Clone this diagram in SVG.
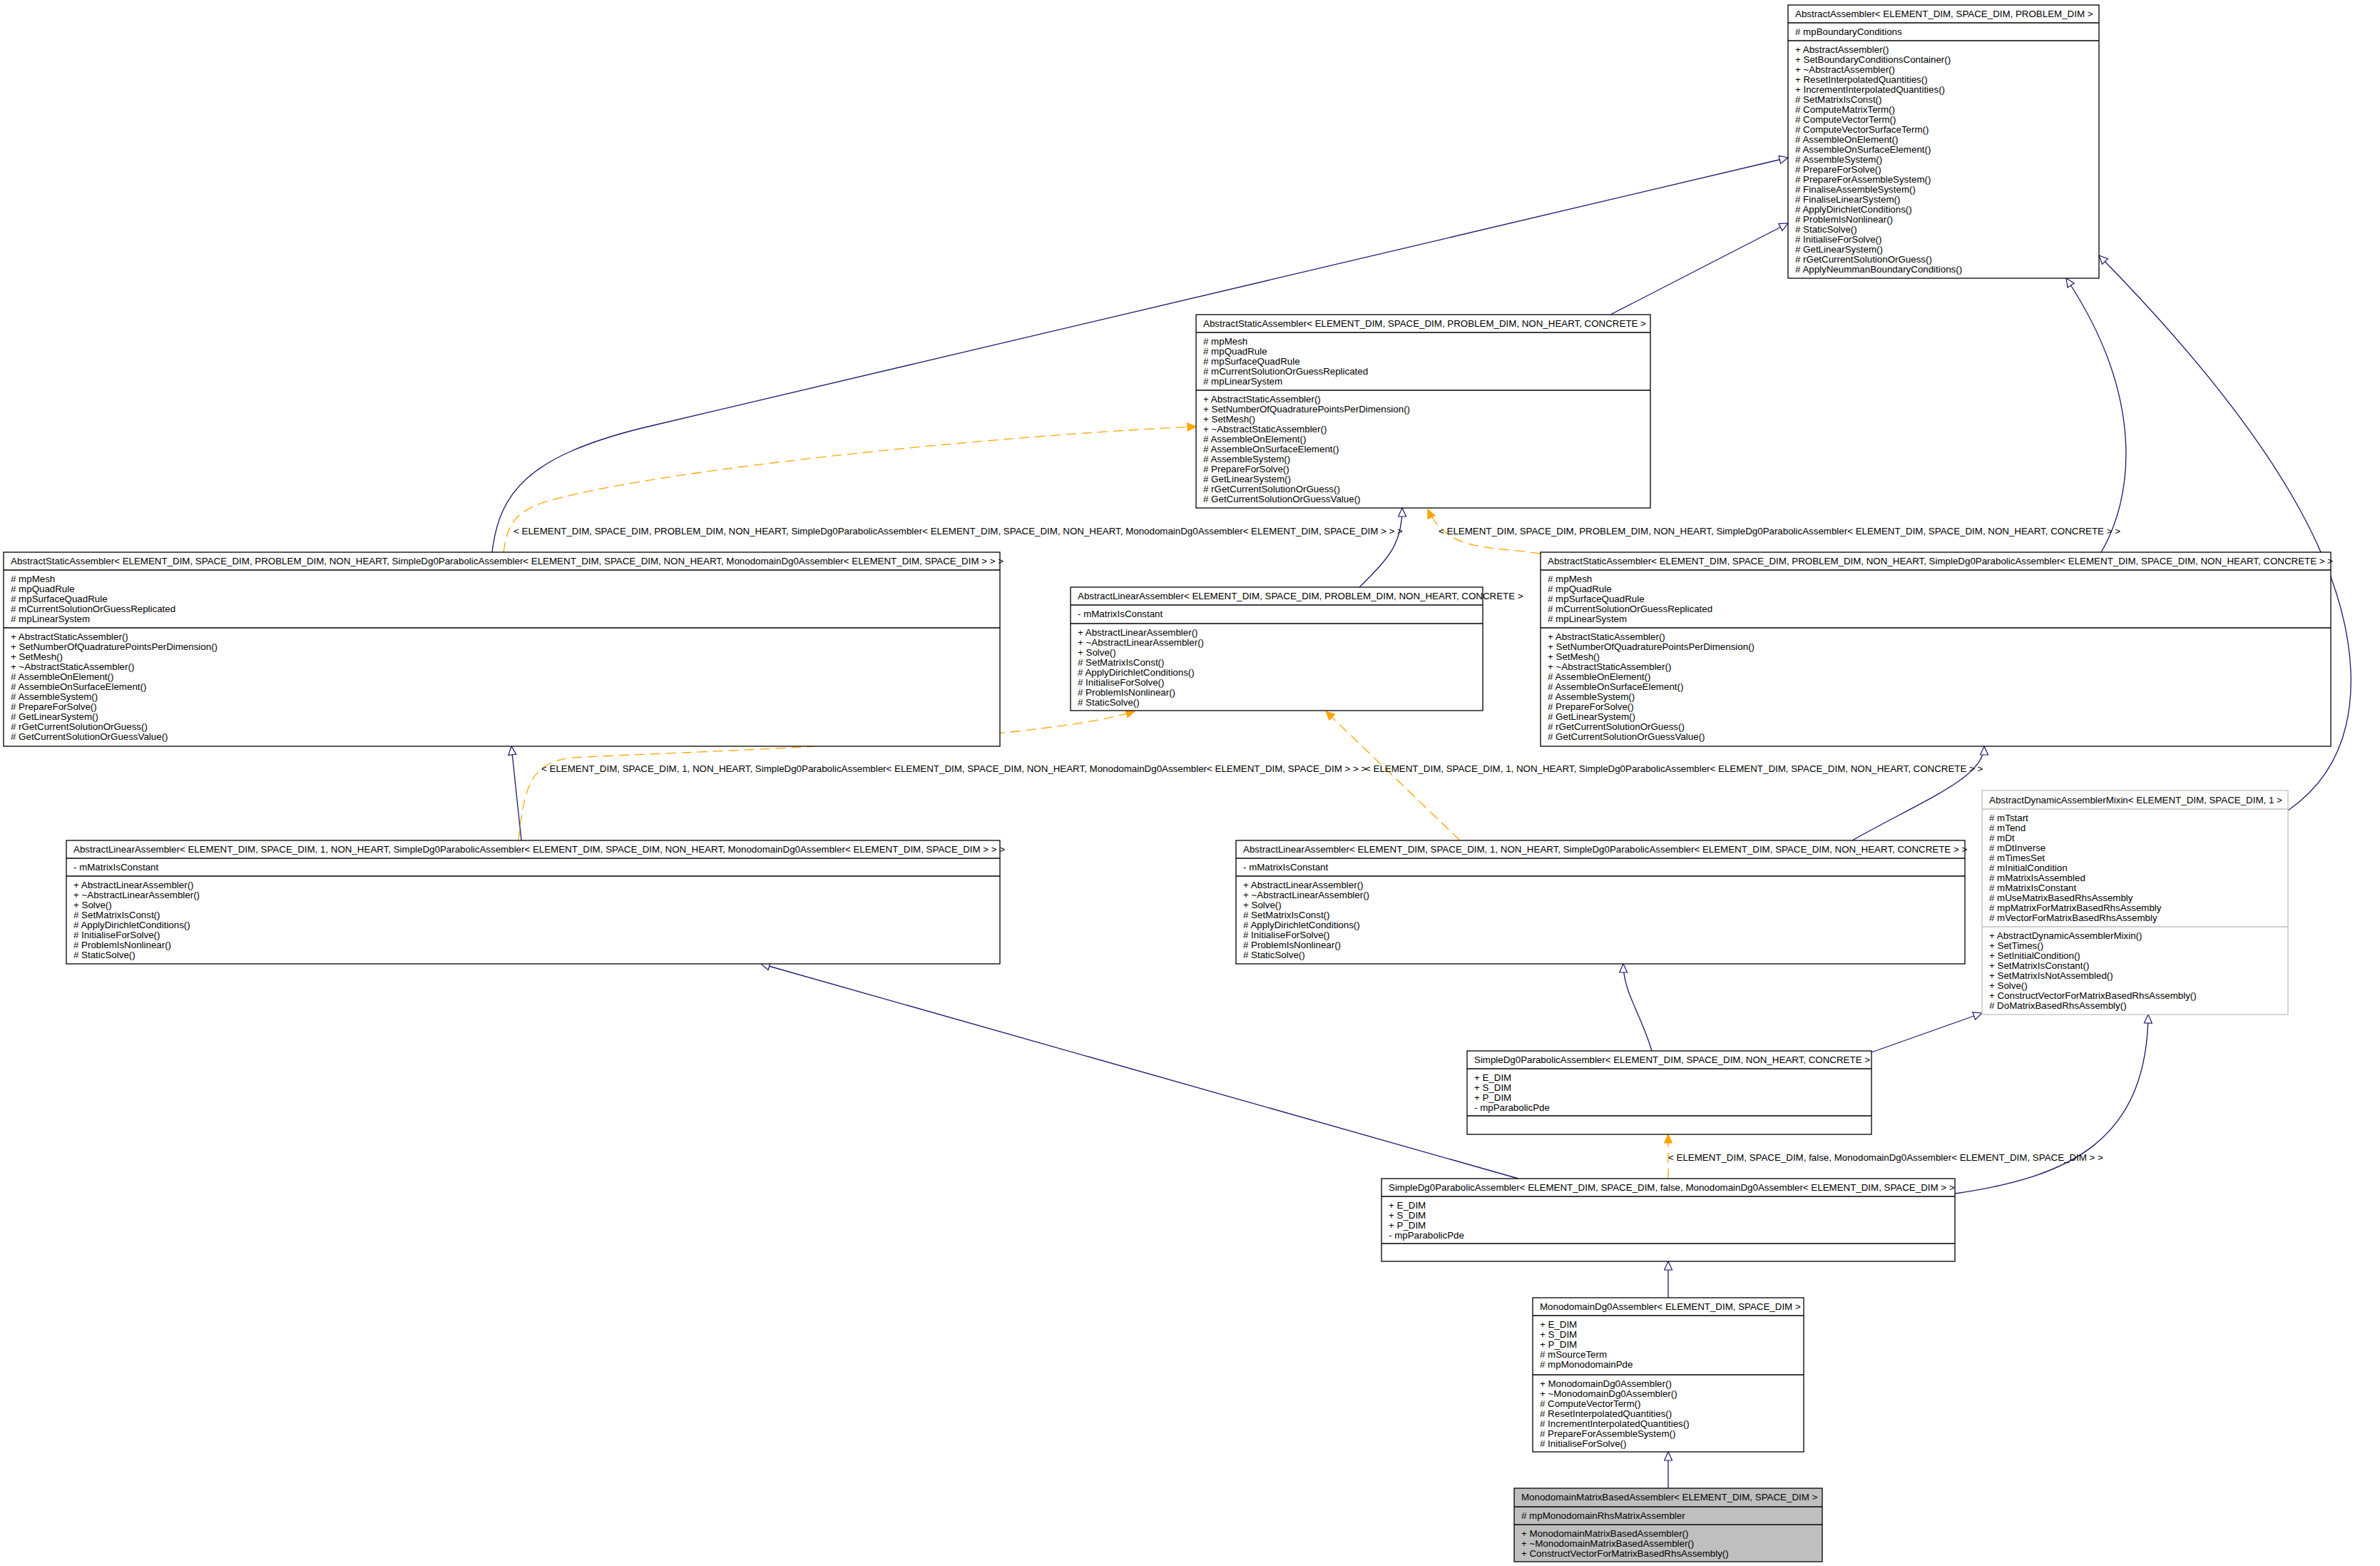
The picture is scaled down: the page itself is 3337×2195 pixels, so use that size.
<svg xmlns="http://www.w3.org/2000/svg" width="3337" height="2195" viewBox="0 0 3337 2195">
<style>
.bg{fill:#ffffff}
.box{fill:#ffffff;stroke:#000000;stroke-width:1.3}
.gbox{fill:#ffffff;stroke:#bfbfbf;stroke-width:1.3}
.cur{fill:#bfbfbf;stroke:#000000;stroke-width:1.3}
.sep{stroke:#000000;stroke-width:1.3}
.gsep{stroke:#bfbfbf;stroke-width:1.3}
text{font-family:"Liberation Sans",Arial,Helvetica,sans-serif;font-size:13.33px;fill:#000000}
.inh{fill:none;stroke:#191970;stroke-width:1.3;marker-end:url(#ah)}
.tpl{fill:none;stroke:#ffa500;stroke-width:1.3;stroke-dasharray:14,8;marker-end:url(#ao)}
</style>
<defs>
<marker id="ah" viewBox="0 0 14 13" refX="13" refY="6.5" markerWidth="14" markerHeight="13" orient="auto" markerUnits="userSpaceOnUse">
<path d="M1,1 L13,6.5 L1,12 Z" fill="#ffffff" stroke="#191970" stroke-width="1.2"/>
</marker>
<marker id="ao" viewBox="0 0 14 13" refX="13" refY="6.5" markerWidth="14" markerHeight="13" orient="auto" markerUnits="userSpaceOnUse">
<path d="M1,1 L13,6.5 L1,12 Z" fill="#ffa500" stroke="#ffa500" stroke-width="1.2"/>
</marker>
</defs>
<rect class="bg" x="0" y="0" width="3337" height="2195"/>

<g id="connectors">
<path class="inh" d="M2258,441 L2507,313"/>
<path class="inh" d="M690,774 C700,690 740,640 900,600 L2507,221"/>
<path class="inh" d="M1906,823 C1950,780 1966,760 1966,712"/>
<path class="inh" d="M2946,774 C2990,700 3010,560 2897,390"/>
<path class="inh" d="M3208,1136 C3260,1100 3300,1040 3296,940 C3290,800 3200,620 2943,358"/>
<path class="inh" d="M731,1178 L717,1046"/>
<path class="inh" d="M2597,1178 C2700,1120 2782,1090 2782,1046"/>
<path class="inh" d="M2316,1473 C2300,1420 2276,1390 2276,1351"/>
<path class="inh" d="M2624,1475 L2779,1420"/>
<path class="inh" d="M2129,1652 L1067,1351"/>
<path class="inh" d="M2741,1673 C2900,1650 3010,1600 3012,1422"/>
<path class="inh" d="M2339,1819 L2339,1768"/>
<path class="inh" d="M2339,2086 L2339,2035"/>
<path class="tpl" d="M706,774 C712,735 720,720 760,705 C900,660 1400,610 1677,598"/>
<path class="tpl" d="M2160,776 C2090,765 2030,775 2002,714"/>
<path class="tpl" d="M727,1178 C735,1100 745,1070 800,1062 C1000,1052 1450,1040 1591,997"/>
<path class="tpl" d="M2047,1178 L1859,997"/>
<path class="tpl" d="M2339,1652 L2339,1590"/>
<text x="720" y="749">&lt; ELEMENT_DIM, SPACE_DIM, PROBLEM_DIM, NON_HEART, SimpleDg0ParabolicAssembler&lt; ELEMENT_DIM, SPACE_DIM, NON_HEART, MonodomainDg0Assembler&lt; ELEMENT_DIM, SPACE_DIM &gt; &gt; &gt;</text>
<text x="2017" y="749">&lt; ELEMENT_DIM, SPACE_DIM, PROBLEM_DIM, NON_HEART, SimpleDg0ParabolicAssembler&lt; ELEMENT_DIM, SPACE_DIM, NON_HEART, CONCRETE &gt; &gt;</text>
<text x="759" y="1082">&lt; ELEMENT_DIM, SPACE_DIM, 1, NON_HEART, SimpleDg0ParabolicAssembler&lt; ELEMENT_DIM, SPACE_DIM, NON_HEART, MonodomainDg0Assembler&lt; ELEMENT_DIM, SPACE_DIM &gt; &gt; &gt;</text>
<text x="1914" y="1082">&lt; ELEMENT_DIM, SPACE_DIM, 1, NON_HEART, SimpleDg0ParabolicAssembler&lt; ELEMENT_DIM, SPACE_DIM, NON_HEART, CONCRETE &gt; &gt;</text>
<text x="2339" y="1627">&lt; ELEMENT_DIM, SPACE_DIM, false, MonodomainDg0Assembler&lt; ELEMENT_DIM, SPACE_DIM &gt; &gt;</text>
</g>

<g id="AbstractAssembler">
<rect class="box" x="2507" y="7" width="436" height="383"/>
<line class="sep" x1="2507" y1="32" x2="2943" y2="32"/>
<line class="sep" x1="2507" y1="57" x2="2943" y2="57"/>
<text x="2517" y="24">AbstractAssembler&lt; ELEMENT_DIM, SPACE_DIM, PROBLEM_DIM &gt;</text>
<text x="2517" y="49"># mpBoundaryConditions</text>
<text x="2517" y="74"><tspan x="2517">+ AbstractAssembler()</tspan><tspan x="2517" dy="14">+ SetBoundaryConditionsContainer()</tspan><tspan x="2517" dy="14">+ ~AbstractAssembler()</tspan><tspan x="2517" dy="14">+ ResetInterpolatedQuantities()</tspan><tspan x="2517" dy="14">+ IncrementInterpolatedQuantities()</tspan><tspan x="2517" dy="14"># SetMatrixIsConst()</tspan><tspan x="2517" dy="14"># ComputeMatrixTerm()</tspan><tspan x="2517" dy="14"># ComputeVectorTerm()</tspan><tspan x="2517" dy="14"># ComputeVectorSurfaceTerm()</tspan><tspan x="2517" dy="14"># AssembleOnElement()</tspan><tspan x="2517" dy="14"># AssembleOnSurfaceElement()</tspan><tspan x="2517" dy="14"># AssembleSystem()</tspan><tspan x="2517" dy="14"># PrepareForSolve()</tspan><tspan x="2517" dy="14"># PrepareForAssembleSystem()</tspan><tspan x="2517" dy="14"># FinaliseAssembleSystem()</tspan><tspan x="2517" dy="14"># FinaliseLinearSystem()</tspan><tspan x="2517" dy="14"># ApplyDirichletConditions()</tspan><tspan x="2517" dy="14"># ProblemIsNonlinear()</tspan><tspan x="2517" dy="14"># StaticSolve()</tspan><tspan x="2517" dy="14"># InitialiseForSolve()</tspan><tspan x="2517" dy="14"># GetLinearSystem()</tspan><tspan x="2517" dy="14"># rGetCurrentSolutionOrGuess()</tspan><tspan x="2517" dy="14"># ApplyNeummanBoundaryConditions()</tspan></text>
</g>

<g id="AbstractStaticAssemblerConcrete">
<rect class="box" x="1677" y="441" width="637" height="271"/>
<line class="sep" x1="1677" y1="466" x2="2314" y2="466"/>
<line class="sep" x1="1677" y1="547" x2="2314" y2="547"/>
<text x="1687" y="458">AbstractStaticAssembler&lt; ELEMENT_DIM, SPACE_DIM, PROBLEM_DIM, NON_HEART, CONCRETE &gt;</text>
<text x="1687" y="483"><tspan x="1687"># mpMesh</tspan><tspan x="1687" dy="14"># mpQuadRule</tspan><tspan x="1687" dy="14"># mpSurfaceQuadRule</tspan><tspan x="1687" dy="14"># mCurrentSolutionOrGuessReplicated</tspan><tspan x="1687" dy="14"># mpLinearSystem</tspan></text>
<text x="1687" y="564"><tspan x="1687">+ AbstractStaticAssembler()</tspan><tspan x="1687" dy="14">+ SetNumberOfQuadraturePointsPerDimension()</tspan><tspan x="1687" dy="14">+ SetMesh()</tspan><tspan x="1687" dy="14">+ ~AbstractStaticAssembler()</tspan><tspan x="1687" dy="14"># AssembleOnElement()</tspan><tspan x="1687" dy="14"># AssembleOnSurfaceElement()</tspan><tspan x="1687" dy="14"># AssembleSystem()</tspan><tspan x="1687" dy="14"># PrepareForSolve()</tspan><tspan x="1687" dy="14"># GetLinearSystem()</tspan><tspan x="1687" dy="14"># rGetCurrentSolutionOrGuess()</tspan><tspan x="1687" dy="14"># GetCurrentSolutionOrGuessValue()</tspan></text>
</g>

<g id="AbstractStaticAssemblerMonodomain">
<rect class="box" x="5" y="774" width="1397" height="272"/>
<line class="sep" x1="5" y1="799" x2="1402" y2="799"/>
<line class="sep" x1="5" y1="880" x2="1402" y2="880"/>
<text x="15" y="791">AbstractStaticAssembler&lt; ELEMENT_DIM, SPACE_DIM, PROBLEM_DIM, NON_HEART, SimpleDg0ParabolicAssembler&lt; ELEMENT_DIM, SPACE_DIM, NON_HEART, MonodomainDg0Assembler&lt; ELEMENT_DIM, SPACE_DIM &gt; &gt; &gt;</text>
<text x="15" y="816"><tspan x="15"># mpMesh</tspan><tspan x="15" dy="14"># mpQuadRule</tspan><tspan x="15" dy="14"># mpSurfaceQuadRule</tspan><tspan x="15" dy="14"># mCurrentSolutionOrGuessReplicated</tspan><tspan x="15" dy="14"># mpLinearSystem</tspan></text>
<text x="15" y="897"><tspan x="15">+ AbstractStaticAssembler()</tspan><tspan x="15" dy="14">+ SetNumberOfQuadraturePointsPerDimension()</tspan><tspan x="15" dy="14">+ SetMesh()</tspan><tspan x="15" dy="14">+ ~AbstractStaticAssembler()</tspan><tspan x="15" dy="14"># AssembleOnElement()</tspan><tspan x="15" dy="14"># AssembleOnSurfaceElement()</tspan><tspan x="15" dy="14"># AssembleSystem()</tspan><tspan x="15" dy="14"># PrepareForSolve()</tspan><tspan x="15" dy="14"># GetLinearSystem()</tspan><tspan x="15" dy="14"># rGetCurrentSolutionOrGuess()</tspan><tspan x="15" dy="14"># GetCurrentSolutionOrGuessValue()</tspan></text>
</g>

<g id="AbstractLinearAssemblerConcrete">
<rect class="box" x="1501" y="823" width="578" height="173"/>
<line class="sep" x1="1501" y1="848" x2="2079" y2="848"/>
<line class="sep" x1="1501" y1="874" x2="2079" y2="874"/>
<text x="1511" y="840">AbstractLinearAssembler&lt; ELEMENT_DIM, SPACE_DIM, PROBLEM_DIM, NON_HEART, CONCRETE &gt;</text>
<text x="1511" y="865">- mMatrixIsConstant</text>
<text x="1511" y="891"><tspan x="1511">+ AbstractLinearAssembler()</tspan><tspan x="1511" dy="14">+ ~AbstractLinearAssembler()</tspan><tspan x="1511" dy="14">+ Solve()</tspan><tspan x="1511" dy="14"># SetMatrixIsConst()</tspan><tspan x="1511" dy="14"># ApplyDirichletConditions()</tspan><tspan x="1511" dy="14"># InitialiseForSolve()</tspan><tspan x="1511" dy="14"># ProblemIsNonlinear()</tspan><tspan x="1511" dy="14"># StaticSolve()</tspan></text>
</g>

<g id="AbstractStaticAssemblerSimpleConcrete">
<rect class="box" x="2160" y="774" width="1108" height="272"/>
<line class="sep" x1="2160" y1="799" x2="3268" y2="799"/>
<line class="sep" x1="2160" y1="880" x2="3268" y2="880"/>
<text x="2170" y="791">AbstractStaticAssembler&lt; ELEMENT_DIM, SPACE_DIM, PROBLEM_DIM, NON_HEART, SimpleDg0ParabolicAssembler&lt; ELEMENT_DIM, SPACE_DIM, NON_HEART, CONCRETE &gt; &gt;</text>
<text x="2170" y="816"><tspan x="2170"># mpMesh</tspan><tspan x="2170" dy="14"># mpQuadRule</tspan><tspan x="2170" dy="14"># mpSurfaceQuadRule</tspan><tspan x="2170" dy="14"># mCurrentSolutionOrGuessReplicated</tspan><tspan x="2170" dy="14"># mpLinearSystem</tspan></text>
<text x="2170" y="897"><tspan x="2170">+ AbstractStaticAssembler()</tspan><tspan x="2170" dy="14">+ SetNumberOfQuadraturePointsPerDimension()</tspan><tspan x="2170" dy="14">+ SetMesh()</tspan><tspan x="2170" dy="14">+ ~AbstractStaticAssembler()</tspan><tspan x="2170" dy="14"># AssembleOnElement()</tspan><tspan x="2170" dy="14"># AssembleOnSurfaceElement()</tspan><tspan x="2170" dy="14"># AssembleSystem()</tspan><tspan x="2170" dy="14"># PrepareForSolve()</tspan><tspan x="2170" dy="14"># GetLinearSystem()</tspan><tspan x="2170" dy="14"># rGetCurrentSolutionOrGuess()</tspan><tspan x="2170" dy="14"># GetCurrentSolutionOrGuessValue()</tspan></text>
</g>

<g id="AbstractLinearAssemblerMonodomain">
<rect class="box" x="93" y="1178" width="1309" height="173"/>
<line class="sep" x1="93" y1="1203" x2="1402" y2="1203"/>
<line class="sep" x1="93" y1="1228" x2="1402" y2="1228"/>
<text x="103" y="1195">AbstractLinearAssembler&lt; ELEMENT_DIM, SPACE_DIM, 1, NON_HEART, SimpleDg0ParabolicAssembler&lt; ELEMENT_DIM, SPACE_DIM, NON_HEART, MonodomainDg0Assembler&lt; ELEMENT_DIM, SPACE_DIM &gt; &gt; &gt;</text>
<text x="103" y="1220">- mMatrixIsConstant</text>
<text x="103" y="1245"><tspan x="103">+ AbstractLinearAssembler()</tspan><tspan x="103" dy="14">+ ~AbstractLinearAssembler()</tspan><tspan x="103" dy="14">+ Solve()</tspan><tspan x="103" dy="14"># SetMatrixIsConst()</tspan><tspan x="103" dy="14"># ApplyDirichletConditions()</tspan><tspan x="103" dy="14"># InitialiseForSolve()</tspan><tspan x="103" dy="14"># ProblemIsNonlinear()</tspan><tspan x="103" dy="14"># StaticSolve()</tspan></text>
</g>

<g id="AbstractLinearAssemblerSimpleConcrete">
<rect class="box" x="1733" y="1178" width="1022" height="173"/>
<line class="sep" x1="1733" y1="1203" x2="2755" y2="1203"/>
<line class="sep" x1="1733" y1="1228" x2="2755" y2="1228"/>
<text x="1743" y="1195">AbstractLinearAssembler&lt; ELEMENT_DIM, SPACE_DIM, 1, NON_HEART, SimpleDg0ParabolicAssembler&lt; ELEMENT_DIM, SPACE_DIM, NON_HEART, CONCRETE &gt; &gt;</text>
<text x="1743" y="1220">- mMatrixIsConstant</text>
<text x="1743" y="1245"><tspan x="1743">+ AbstractLinearAssembler()</tspan><tspan x="1743" dy="14">+ ~AbstractLinearAssembler()</tspan><tspan x="1743" dy="14">+ Solve()</tspan><tspan x="1743" dy="14"># SetMatrixIsConst()</tspan><tspan x="1743" dy="14"># ApplyDirichletConditions()</tspan><tspan x="1743" dy="14"># InitialiseForSolve()</tspan><tspan x="1743" dy="14"># ProblemIsNonlinear()</tspan><tspan x="1743" dy="14"># StaticSolve()</tspan></text>
</g>

<g id="AbstractDynamicAssemblerMixin">
<rect class="gbox" x="2779" y="1108" width="429" height="314"/>
<line class="gsep" x1="2779" y1="1134" x2="3208" y2="1134"/>
<line class="gsep" x1="2779" y1="1299" x2="3208" y2="1299"/>
<text x="2789" y="1126">AbstractDynamicAssemblerMixin&lt; ELEMENT_DIM, SPACE_DIM, 1 &gt;</text>
<text x="2789" y="1151"><tspan x="2789"># mTstart</tspan><tspan x="2789" dy="14"># mTend</tspan><tspan x="2789" dy="14"># mDt</tspan><tspan x="2789" dy="14"># mDtInverse</tspan><tspan x="2789" dy="14"># mTimesSet</tspan><tspan x="2789" dy="14"># mInitialCondition</tspan><tspan x="2789" dy="14"># mMatrixIsAssembled</tspan><tspan x="2789" dy="14"># mMatrixIsConstant</tspan><tspan x="2789" dy="14"># mUseMatrixBasedRhsAssembly</tspan><tspan x="2789" dy="14"># mpMatrixForMatrixBasedRhsAssembly</tspan><tspan x="2789" dy="14"># mVectorForMatrixBasedRhsAssembly</tspan></text>
<text x="2789" y="1316"><tspan x="2789">+ AbstractDynamicAssemblerMixin()</tspan><tspan x="2789" dy="14">+ SetTimes()</tspan><tspan x="2789" dy="14">+ SetInitialCondition()</tspan><tspan x="2789" dy="14">+ SetMatrixIsConstant()</tspan><tspan x="2789" dy="14">+ SetMatrixIsNotAssembled()</tspan><tspan x="2789" dy="14">+ Solve()</tspan><tspan x="2789" dy="14">+ ConstructVectorForMatrixBasedRhsAssembly()</tspan><tspan x="2789" dy="14"># DoMatrixBasedRhsAssembly()</tspan></text>
</g>

<g id="SimpleDg0ParabolicAssemblerConcrete">
<rect class="box" x="2057" y="1473" width="567" height="117"/>
<line class="sep" x1="2057" y1="1498" x2="2624" y2="1498"/>
<line class="sep" x1="2057" y1="1564" x2="2624" y2="1564"/>
<text x="2067" y="1490">SimpleDg0ParabolicAssembler&lt; ELEMENT_DIM, SPACE_DIM, NON_HEART, CONCRETE &gt;</text>
<text x="2067" y="1515"><tspan x="2067">+ E_DIM</tspan><tspan x="2067" dy="14">+ S_DIM</tspan><tspan x="2067" dy="14">+ P_DIM</tspan><tspan x="2067" dy="14">- mpParabolicPde</tspan></text>
</g>

<g id="SimpleDg0ParabolicAssemblerMonodomain">
<rect class="box" x="1937" y="1652" width="804" height="116"/>
<line class="sep" x1="1937" y1="1677" x2="2741" y2="1677"/>
<line class="sep" x1="1937" y1="1743" x2="2741" y2="1743"/>
<text x="1947" y="1669">SimpleDg0ParabolicAssembler&lt; ELEMENT_DIM, SPACE_DIM, false, MonodomainDg0Assembler&lt; ELEMENT_DIM, SPACE_DIM &gt; &gt;</text>
<text x="1947" y="1694"><tspan x="1947">+ E_DIM</tspan><tspan x="1947" dy="14">+ S_DIM</tspan><tspan x="1947" dy="14">+ P_DIM</tspan><tspan x="1947" dy="14">- mpParabolicPde</tspan></text>
</g>

<g id="MonodomainDg0Assembler">
<rect class="box" x="2149" y="1819" width="380" height="216"/>
<line class="sep" x1="2149" y1="1844" x2="2529" y2="1844"/>
<line class="sep" x1="2149" y1="1927" x2="2529" y2="1927"/>
<text x="2159" y="1836">MonodomainDg0Assembler&lt; ELEMENT_DIM, SPACE_DIM &gt;</text>
<text x="2159" y="1861"><tspan x="2159">+ E_DIM</tspan><tspan x="2159" dy="14">+ S_DIM</tspan><tspan x="2159" dy="14">+ P_DIM</tspan><tspan x="2159" dy="14"># mSourceTerm</tspan><tspan x="2159" dy="14"># mpMonodomainPde</tspan></text>
<text x="2159" y="1944"><tspan x="2159">+ MonodomainDg0Assembler()</tspan><tspan x="2159" dy="14">+ ~MonodomainDg0Assembler()</tspan><tspan x="2159" dy="14"># ComputeVectorTerm()</tspan><tspan x="2159" dy="14"># ResetInterpolatedQuantities()</tspan><tspan x="2159" dy="14"># IncrementInterpolatedQuantities()</tspan><tspan x="2159" dy="14"># PrepareForAssembleSystem()</tspan><tspan x="2159" dy="14"># InitialiseForSolve()</tspan></text>
</g>

<g id="MonodomainMatrixBasedAssembler">
<rect class="cur" x="2123" y="2086" width="432" height="103"/>
<line class="sep" x1="2123" y1="2112" x2="2555" y2="2112"/>
<line class="sep" x1="2123" y1="2137" x2="2555" y2="2137"/>
<text x="2133" y="2103">MonodomainMatrixBasedAssembler&lt; ELEMENT_DIM, SPACE_DIM &gt;</text>
<text x="2133" y="2129"># mpMonodomainRhsMatrixAssembler</text>
<text x="2133" y="2154"><tspan x="2133">+ MonodomainMatrixBasedAssembler()</tspan><tspan x="2133" dy="14">+ ~MonodomainMatrixBasedAssembler()</tspan><tspan x="2133" dy="14">+ ConstructVectorForMatrixBasedRhsAssembly()</tspan></text>
</g>
</svg>
